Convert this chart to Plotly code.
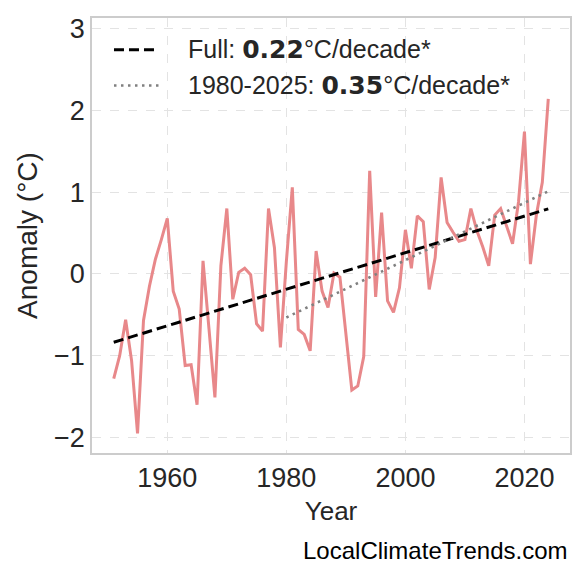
import numpy as np
import plotly.graph_objects as go

# yearly temperature anomaly (°C)
years = list(range(1951, 2025))
anomaly = [
    -1.28, -1.00, -0.56, -1.06, -1.95, -0.57, -0.15, 0.18, 0.42, 0.68,
    -0.21, -0.43, -1.12, -1.11, -1.60, 0.16, -0.67, -1.51, 0.10, 0.80,
    -0.31, 0.02, 0.07, -0.01, -0.61, -0.70, 0.80, 0.32, -0.90, 0.15,
    1.06, -0.68, -0.74, -0.94, 0.28, -0.21, -0.41, 0.01, -0.04, -0.76,
    -1.42, -1.37, -1.01, 1.26, -0.28, 0.75, -0.33, -0.47, -0.17, 0.54,
    0.07, 0.71, 0.64, -0.19, 0.20, 1.18, 0.63, 0.51, 0.40, 0.42,
    0.80, 0.53, 0.33, 0.10, 0.72, 0.80, 0.59, 0.37, 0.88, 1.74,
    0.12, 0.72, 1.12, 2.14,
]
recent_start = 1980
trend_names = ["Full", "1980-2025"]
trend_labels = ["0.22", "0.35"]
x_ticks = [1960, 1980, 2000, 2020]
y_ticks = [-2, -1, 0, 1, 2, 3]
y_ticktext = ["\u22122", "\u22121", "0", "1", "2", "3"]

yrs = np.array(years)
vals = np.array(anomaly)
full_fit = np.polyfit(yrs, vals, 1)
mask = yrs >= recent_start
recent_fit = np.polyfit(yrs[mask], vals[mask], 1)

full_line = dict(color="black", width=3, dash="10px,5px")
recent_line = dict(color="#808080", width=2.6, dash="2.5px,4.5px")

fig = go.Figure()
fig.add_trace(go.Scatter(x=years, y=anomaly, mode="lines", showlegend=False,
                         line=dict(color="#e8888a", width=3)))
fig.add_trace(go.Scatter(x=years, y=np.polyval(full_fit, yrs), mode="lines",
                         showlegend=False, line=full_line))
fig.add_trace(go.Scatter(x=yrs[mask], y=np.polyval(recent_fit, yrs[mask]), mode="lines",
                         showlegend=False, line=recent_line))

# legend drawn by hand so key length and text gap match the original
bold = '<span style="font-family:DejaVu Sans;font-weight:bold">%s</span>'
legend_rows = [(0.927, full_line), (0.845, recent_line)]
for (ly, style), name, rate in zip(legend_rows, trend_names, trend_labels):
    fig.add_shape(type="line", xref="paper", yref="paper", x0=0.046, x1=0.140,
                  y0=ly, y1=ly, line=style)
    fig.add_annotation(text=name + ": " + bold % rate + "°C/decade*", xref="paper",
                       yref="paper", x=0.196, y=ly, xanchor="left", yanchor="middle",
                       showarrow=False, font=dict(size=25, color="#262626"))

fig.add_annotation(text="LocalClimateTrends.com", xref="paper", yref="paper",
                   x=1.0, y=-0.225, xanchor="right", yanchor="middle",
                   showarrow=False, font=dict(size=24, color="black"))

axis_common = dict(showline=True, mirror=True, linecolor="#cccccc", linewidth=1.5,
                   showgrid=True, gridcolor="#e3e3e3", gridwidth=1.2, griddash="dash",
                   zeroline=False, ticks="", tickfont=dict(size=27, color="#262626"))

fig.update_layout(
    width=577, height=572,
    margin=dict(l=84, r=15, t=6, b=127),
    paper_bgcolor="white", plot_bgcolor="white",
    font=dict(family="Liberation Sans, Arial, sans-serif", color="#262626"),
    showlegend=False,
    xaxis=dict(range=[1947.35, 2027.65], tickvals=x_ticks,
               title=dict(text="Year", font=dict(size=26), standoff=10), **axis_common),
    yaxis=dict(range=[-2.19, 3.13], tickvals=y_ticks, ticktext=y_ticktext,
               title=dict(text="Anomaly (°C)", font=dict(size=28), standoff=8), **axis_common),
)

fig.write_html("out.html")
